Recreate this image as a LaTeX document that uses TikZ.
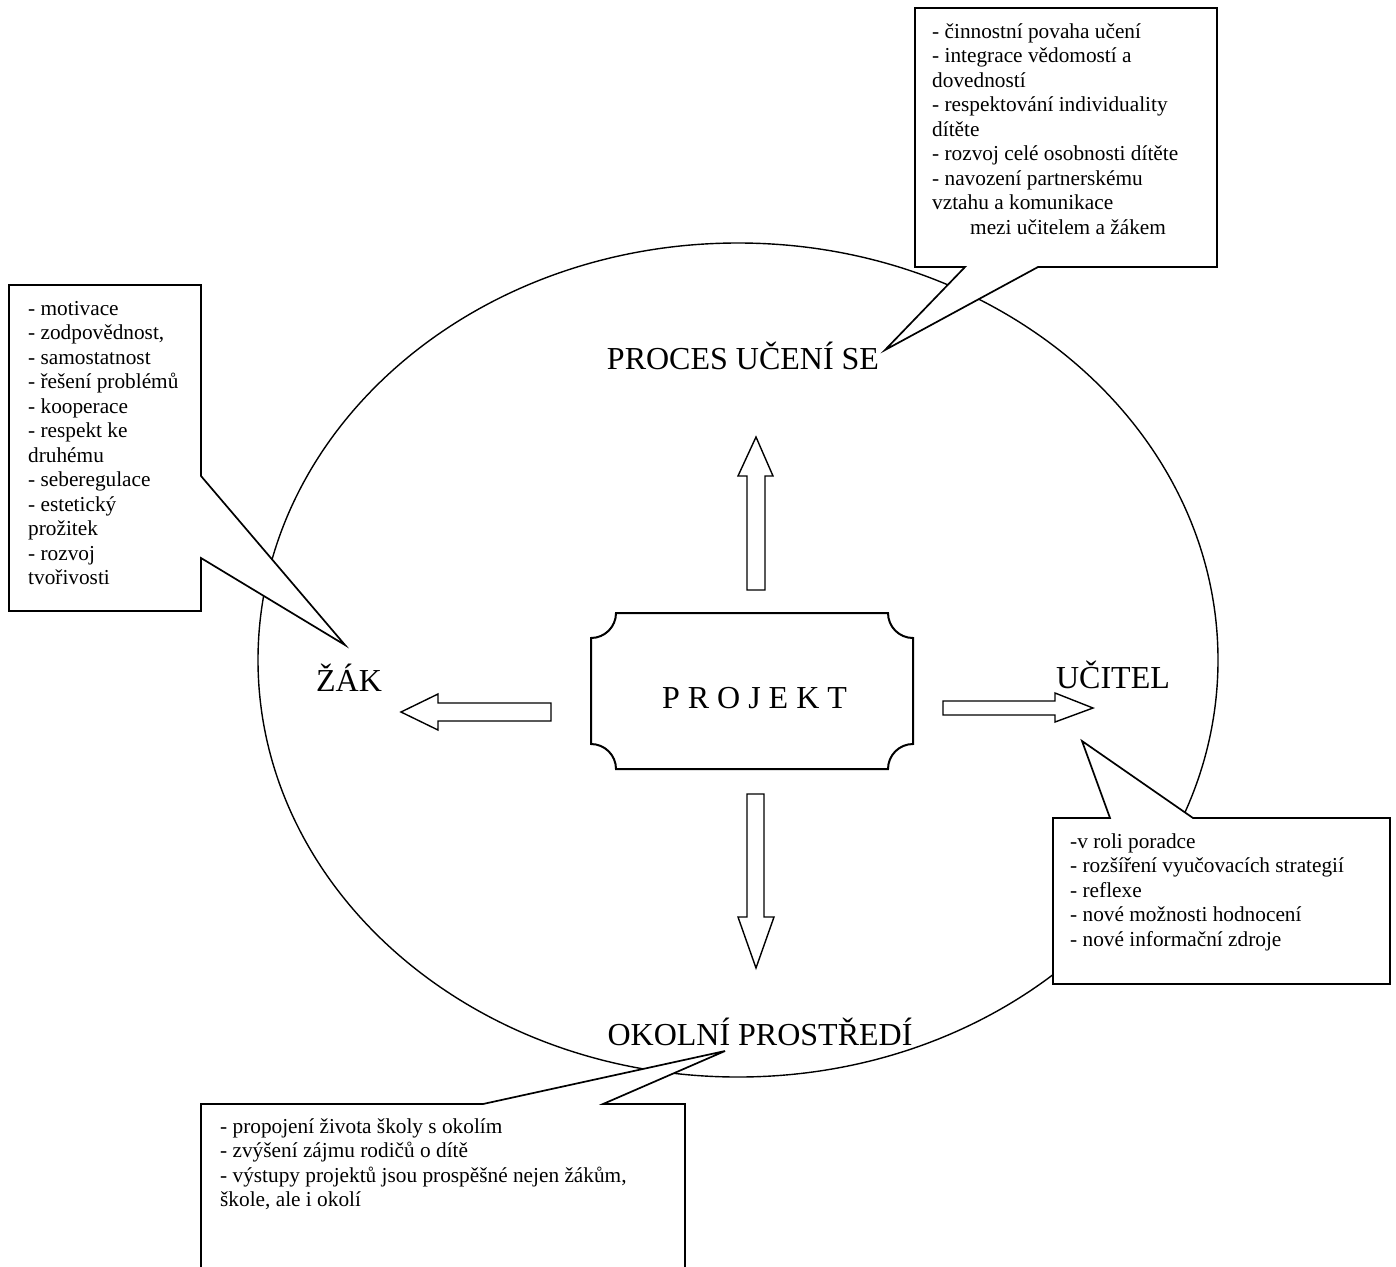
\documentclass[tikz,border=0pt]{standalone}
\usepackage{fontspec}
\setmainfont{Liberation Serif}
\newcommand\calloutlines[1]{\begin{tabular}[t]{@{}l@{}}#1\end{tabular}}
\begin{document}
\begin{tikzpicture}[x=1pt,y=-1pt,
  outline/.style={draw=black, line width=1.7pt, fill=white, line join=miter},
  blockarrow/.style={draw=black, line width=1.4pt, fill=white, line join=miter},
  ring/.style={draw=black, line width=1.4pt},
  bigtext/.style={font=\fontsize{32}{38}\selectfont, inner sep=0pt, anchor=base},
  calltext/.style={font=\fontsize{21.3}{24.5}\selectfont, inner sep=0pt, anchor=base west}]
\useasboundingbox (0,0) rectangle (1396,1266);
\clip (0,0) rectangle (1396,1266);
% main ellipse
\draw[ring] (738,660) ellipse [x radius=480, y radius=417];
% callouts
\draw[outline] (915,8) -- (1217,8) -- (1217,267) -- (1038,267) -- (885,350) -- (965,267) -- (915,267) -- cycle;
\draw[outline] (9,285) -- (201,285) -- (201,476) -- (345,645) -- (201,558) -- (201,611) -- (9,611) -- cycle;
\draw[outline] (1053,818) -- (1110,818) -- (1082,741) -- (1193,818) -- (1390,818) -- (1390,984) -- (1053,984) -- cycle;
\draw[outline] (201,1104) -- (483,1104) -- (725,1051) -- (603,1104) -- (685,1104) -- (685,1290) -- (201,1290) -- cycle;
% callout texts
\node[calltext] (proctext) at (932,38) {\calloutlines{- činnostní povaha učení\\
- integrace vědomostí a\\
dovedností\\
- respektování individuality\\
dítěte\\
- rozvoj celé osobnosti dítěte\\
- navození partnerskému\\
vztahu a komunikace\\
\hspace*{38pt}mezi učitelem a žákem}};
\node[calltext] (zaktext) at (28,315) {\calloutlines{- motivace\\
- zodpovědnost,\\
- samostatnost\\
- řešení problémů\\
- kooperace\\
- respekt ke\\
druhému\\
- seberegulace\\
- estetický\\
prožitek\\
- rozvoj\\
tvořivosti}};
\node[calltext] (ucitext) at (1070,848) {\calloutlines{-v roli poradce\\
- rozšíření vyučovacích strategií\\
- reflexe\\
- nové možnosti hodnocení\\
- nové informační zdroje}};
\node[calltext] (okotext) at (220,1133) {\calloutlines{- propojení života školy s okolím\\
- zvýšení zájmu rodičů o dítě\\
- výstupy projektů jsou prospěšné nejen žákům,\\
škole, ale i okolí}};
% project box
\draw[outline, line width=2pt] (616,613) -- (888,613) .. controls (888,626.8) and (899.2,638) .. (913,638)
  -- (913,744) .. controls (899.2,744) and (888,755.2) .. (888,769)
  -- (616,769) .. controls (616,755.2) and (604.8,744) .. (591,744)
  -- (591,638) .. controls (604.8,638) and (616,626.8) .. (616,613) -- cycle;
% block arrows
\draw[blockarrow] (747,590) -- (747,476) -- (738,476) -- (756,437) -- (773,476) -- (765,476) -- (765,590) -- cycle;
\draw[blockarrow] (551,703) -- (438,703) -- (438,694) -- (401,712) -- (438,730) -- (438,721) -- (551,721) -- cycle;
\draw[blockarrow] (943,701) -- (1055,701) -- (1055,693) -- (1093,708) -- (1055,722) -- (1055,715) -- (943,715) -- cycle;
\draw[blockarrow] (747,794) -- (764,794) -- (764,917) -- (774,917) -- (756,968) -- (738,917) -- (747,917) -- cycle;
% labels
\node[bigtext] (projekt) at (754.5,708) {P R O J E K T};
\node[bigtext] (proces) at (743,369) {PROCES UČENÍ SE};
\node[bigtext] (zak) at (349,691) {ŽÁK};
\node[bigtext] (ucitel) at (1113,688) {UČITEL};
\node[bigtext] (okoli) at (760,1045) {OKOLNÍ PROSTŘEDÍ};
\end{tikzpicture}
\end{document}
